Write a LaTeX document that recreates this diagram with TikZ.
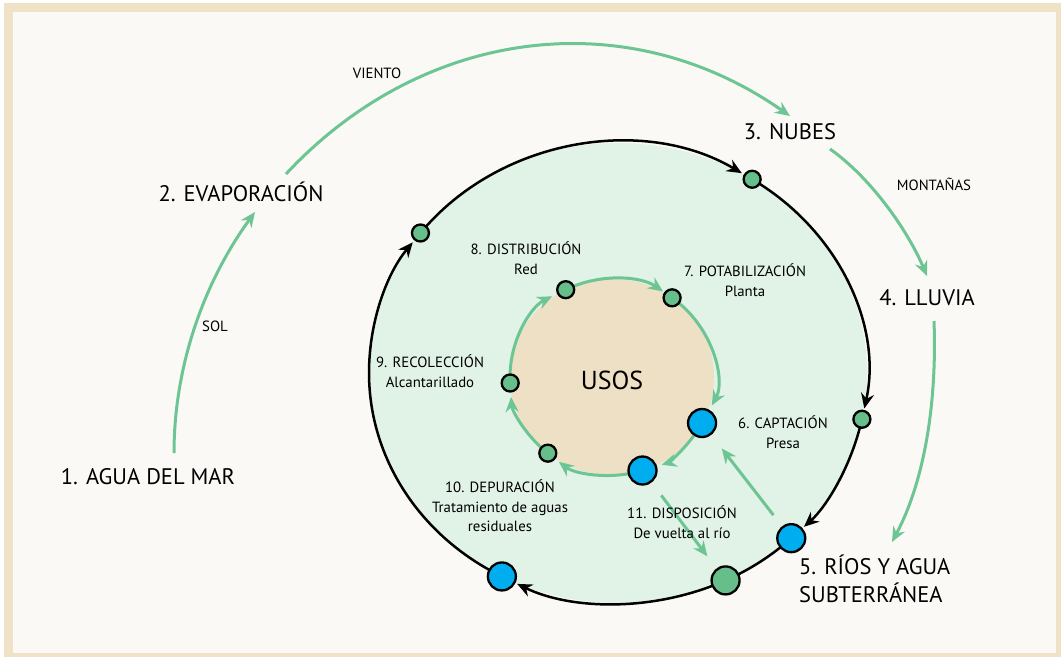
\documentclass[tikz,border=0pt]{standalone}
\usepackage{fontspec}
\setmainfont{PT Sans}
\usetikzlibrary{arrows.meta,calc}
\definecolor{framec}{RGB}{240,226,198}
\definecolor{bgc}{RGB}{250,249,246}
\definecolor{lightg}{RGB}{225,242,231}
\definecolor{beigec}{RGB}{238,224,196}
\definecolor{nodegreen}{RGB}{102,191,138}
\definecolor{arrowgreen}{RGB}{108,197,147}
\definecolor{nodeblue}{RGB}{0,174,239}
\begin{document}
\begin{tikzpicture}[x=1pt,y=1pt,
  gnode/.style={circle,draw=black,line width=2.3pt,fill=nodegreen,minimum size=17pt,inner sep=0pt},
  bnode/.style={circle,draw=black,line width=2.3pt,fill=nodeblue,minimum size=28pt,inner sep=0pt},
  bgnode/.style={gnode,minimum size=28pt},
  outerarc/.style={line width=2.5pt,black},
  blacktip/.style={-{Stealth[length=15pt,width=13pt,inset=5pt]}},
  greenline/.style={line width=3pt,arrowgreen},
  greentip/.style={-{Stealth[length=15pt,width=13pt,inset=5pt]}},
  big/.style={font=\fontsize{22.5}{28}\selectfont,inner sep=0pt},
  small/.style={font=\fontsize{14.8}{20}\selectfont,inner sep=0pt},
  lab/.style={font=\fontsize{14.8}{19.5}\selectfont,align=center,inner sep=0pt},
  usos/.style={font=\fontsize{26}{30}\selectfont,inner sep=0pt}
]
\useasboundingbox (0,0) rectangle (1061,-657);
\fill[white] (0,0) rectangle (1061,-657);
\fill[framec] (4,-3) rectangle (1061,-657);
\fill[bgc] (12.5,-11.5) rectangle (1056,-653);

% outer ellipse
\coordinate (OC) at (618,-373);
\fill[lightg] (OC) ellipse[x radius=249,y radius=230];
\coordinate (p1) at ($(OC)+(142.5:249 and 230)$);
\coordinate (p2) at ($(OC)+(57.4:249 and 230)$);
\coordinate (p3) at ($(OC)+(-11.6:249 and 230)$);
\coordinate (p4) at ($(OC)+(-45.9:249 and 230)$);
\coordinate (p5) at ($(OC)+(-64.4:249 and 230)$);
\coordinate (p6) at ($(OC)+(-117.8:249 and 230)$);

% inner ellipse
\coordinate (IC) at (612,-377);
\fill[beigec] (IC) ellipse[x radius=102,y radius=98];
\coordinate (q8) at ($(IC)+(117:102 and 98)$);
\coordinate (q7) at ($(IC)+(53.9:102 and 98)$);
\coordinate (q6) at ($(IC)+(-28:102 and 98)$);
\coordinate (q11) at ($(IC)+(-72.6:102 and 98)$);
\coordinate (q10) at ($(IC)+(-129:102 and 98)$);
\coordinate (q9) at ($(IC)+(-176.5:102 and 98)$);

% outer black arcs
\draw[outerarc,blacktip,shorten >=12pt] (p1) arc[start angle=142.5,end angle=57.4,x radius=249,y radius=230];
\draw[outerarc,blacktip,shorten >=11pt] (p2) arc[start angle=57.4,end angle=-11.6,x radius=249,y radius=230];
\draw[outerarc,blacktip,shorten >=17pt] (p3) arc[start angle=-11.6,end angle=-45.9,x radius=249,y radius=230];
\draw[outerarc] (p4) arc[start angle=-45.9,end angle=-64.4,x radius=249,y radius=230];
\draw[outerarc,blacktip,shorten >=17pt] (p5) arc[start angle=-64.4,end angle=-117.8,x radius=249,y radius=230];
\draw[outerarc,blacktip,shorten >=12pt] (p6) arc[start angle=-117.8,end angle=-217.5,x radius=249,y radius=230];

% inner green arcs
\draw[greenline,greentip,shorten >=11pt] (q8) arc[start angle=117,end angle=53.9,x radius=102,y radius=98];
\draw[greenline,greentip,shorten >=20pt] (q7) arc[start angle=53.9,end angle=-28,x radius=102,y radius=98];
\draw[greenline,greentip,shorten >=20pt] (q6) arc[start angle=-28,end angle=-72.6,x radius=102,y radius=98];
\draw[greenline,greentip,shorten >=14pt] (q11) arc[start angle=-72.6,end angle=-129,x radius=102,y radius=98];
\draw[greenline,greentip,shorten >=14pt] (q10) arc[start angle=-129,end angle=-176.5,x radius=102,y radius=98];
\draw[greenline,greentip,shorten >=15pt] (q9) arc[start angle=-176.5,end angle=-243,x radius=102,y radius=98];

% nodes
\node[gnode] (o1) at (p1) {};
\node[gnode] (o2) at (p2) {};
\node[gnode] (o3) at (p3) {};
\node[bnode] (o4) at (p4) {};
\node[bgnode] (o5) at (p5) {};
\node[bnode] (o6) at (p6) {};
\node[gnode] (i8) at (q8) {};
\node[gnode] (i7) at (q7) {};
\node[bnode] (i6) at (q6) {};
\node[bnode] (i11) at (q11) {};
\node[gnode] (i10) at (q10) {};
\node[gnode] (i9) at (q9) {};

% straight green arrows
\draw[greenline,greentip,shorten <=14pt,shorten >=17pt] (o4) -- (i6);
\draw[greenline,greentip,shorten <=16pt,shorten >=15pt] (i11) -- (o5);

% outer green curves
\coordinate (s1) at (174,-453); \coordinate (e1) at (255,-212);
\draw[greenline,greentip] (s1) .. controls (174,-366) and (204,-282) .. (e1);
\coordinate (s2) at (286,-174); \coordinate (e2) at (790,-116);
\draw[greenline,greentip] (s2) .. controls (422,-28) and (626,-1) .. (e2);
\coordinate (s3) at (830,-149); \coordinate (e3) at (927,-276);
\draw[greenline,greentip] (s3) .. controls (871,-178) and (907.5,-230) .. (e3);
\coordinate (s4) at (934,-321); \coordinate (e4) at (892,-542);
\draw[greenline,greentip] (s4) .. controls (937,-401) and (925,-480) .. (e4);

% texts
\node[big] (t1) at (148,-477) {1. AGUA DEL MAR};
\node[big] (t2) at (241,-192) {2. EVAPORACIÓN};
\node[big] (t3) at (790,-132) {3. NUBES};
\node[big] (t4) at (927,-298) {4. LLUVIA};
\node[big,align=left,anchor=west] (t5) at (799,-579) {5. RÍOS Y AGUA\\SUBTERRÁNEA};
\node[small] (lsol) at (215,-326) {SOL};
\node[small] (lvien) at (377,-73) {VIENTO};
\node[small] (lmont) at (934,-184) {MONTAÑAS};
\node[usos] (lusos) at (612,-380) {USOS};
\node[lab] (l8) at (526,-258) {8. DISTRIBUCIÓN\\Red};
\node[lab] (l7) at (745,-280) {7. POTABILIZACIÓN\\Planta};
\node[lab] (l9) at (430,-371) {9. RECOLECCIÓN\\Alcantarillado};
\node[lab] (l6) at (783,-432) {6. CAPTACIÓN\\Presa};
\node[lab] (l10) at (500,-506) {10. DEPURACIÓN\\Tratamiento de aguas\\residuales};
\node[lab] (l11) at (682,-522) {11. DISPOSICIÓN\\De vuelta al río};
\end{tikzpicture}
\end{document}
